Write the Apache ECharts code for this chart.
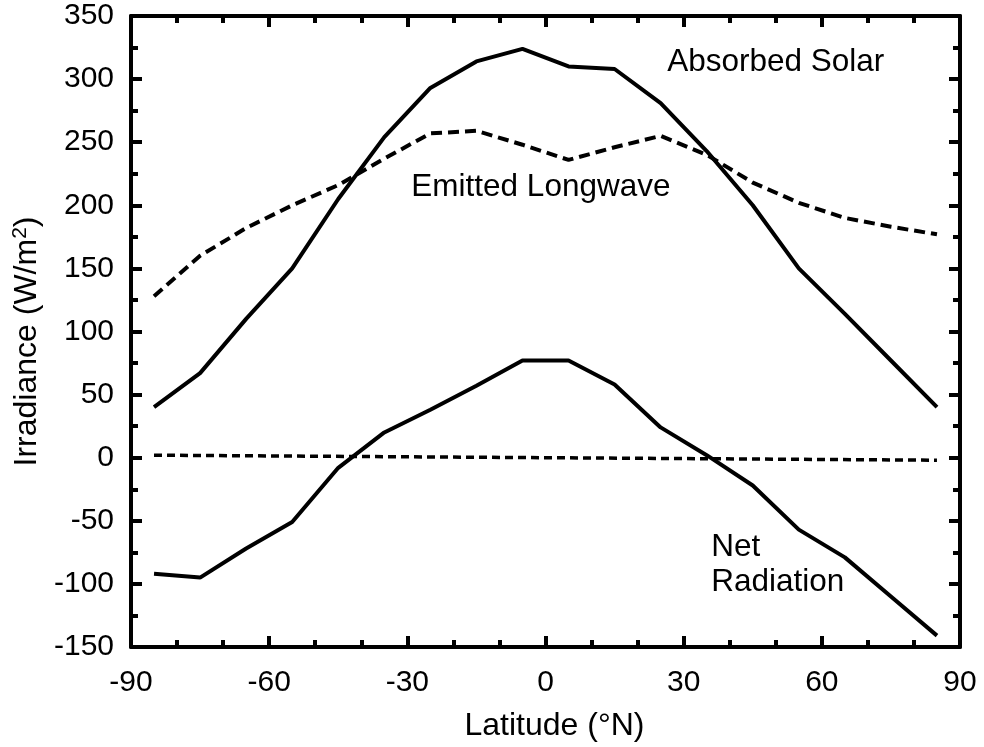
<!DOCTYPE html>
<html>
<head>
<meta charset="utf-8">
<script src="https://cdn.jsdelivr.net/npm/echarts@6/dist/echarts.min.js"></script>
<style>
html,body{margin:0;padding:0;background:#fff;}
#chart{width:984px;height:747px;}
</style>
</head>
<body>
<div id="chart"></div>
<script>
const latitudes = [-85, -75, -65, -55, -45, -35, -25, -15, -5, 5, 15, 25, 35, 45, 55, 65, 75, 85];
const absorbedSolar = [40, 67, 110, 150, 205, 254, 293, 314, 324, 310, 308, 281, 243, 200, 150, 114, 77, 40];
const emittedLongwave = [128, 160, 182, 200, 216, 237, 257, 259, 248, 236, 246, 255, 240, 218, 202, 190, 183, 177];
const netRadiation = [-92, -95, -72, -51, -8, 20, 38, 57, 77, 77, 58, 24, 2, -22, -57, -79, -110, -141];
const zeroLine = [2, -2];
const zeroLats = [-85, 85];
const xTicks = [-90, -60, -30, 0, 30, 60, 90];
const yTicks = [-150, -100, -50, 0, 50, 100, 150, 200, 250, 300, 350];
const annotationTexts = ['Absorbed Solar', 'Emitted Longwave', 'Net\nRadiation'];
const annotationLats = [50, -1, 36];
const annotationVals = [313, 214, -85];
const annotationAligns = ['center', 'center', 'left'];

const pairs = (xs, ys) => xs.map((x, i) => [x, ys[i]]);
const FONT = '"Liberation Sans", Arial, Helvetica, sans-serif';

const chart = echarts.init(document.getElementById('chart'), null, {renderer: 'canvas'});

const baseX = {
  type: 'value', min: xTicks[0], max: xTicks[xTicks.length - 1], interval: 30,
  axisLine: {show: true, onZero: false, lineStyle: {color: '#000', width: 4}},
  axisTick: {show: true, inside: true, length: 11, lineStyle: {color: '#000', width: 4}},
  minorTick: {show: true, splitNumber: 3, length: 7, lineStyle: {color: '#000', width: 4}},
  splitLine: {show: false}
};
const baseY = {
  type: 'value', min: yTicks[0], max: yTicks[yTicks.length - 1], interval: 50,
  axisLine: {show: true, onZero: false, lineStyle: {color: '#000', width: 4}},
  axisTick: {show: true, inside: true, length: 11, lineStyle: {color: '#000', width: 4}},
  minorTick: {show: true, splitNumber: 2, length: 7, lineStyle: {color: '#000', width: 4}},
  splitLine: {show: false}
};

const option = {
  backgroundColor: '#fff',
  animation: false,
  grid: {left: 131, right: 24, top: 16, bottom: 100, containLabel: false, outerBoundsMode: 'none'},
  xAxis: [
    Object.assign({}, baseX, {
      position: 'bottom',
      name: 'Latitude (°N)', nameLocation: 'middle', nameGap: 63,
      nameTextStyle: {fontFamily: FONT, fontSize: 32, color: '#000', padding: [0, 0, 0, 18]},
      axisLabel: {show: true, margin: 21, fontFamily: FONT, fontSize: 30, color: '#000'}
    }),
    Object.assign({}, baseX, {position: 'top', axisLabel: {show: false}})
  ],
  yAxis: [
    Object.assign({}, baseY, {
      position: 'left',
      name: 'Irradiance (W/m{sup|2})', nameLocation: 'middle', nameGap: 86, nameRotate: 90,
      nameTextStyle: {fontFamily: FONT, fontSize: 32, color: '#000', padding: [0, 20, 0, 0],
        rich: {sup: {fontFamily: FONT, fontSize: 21, color: '#000', padding: [0, 0, 14, 0]}}},
      axisLabel: {show: true, margin: 17, fontFamily: FONT, fontSize: 30, color: '#000'}
    }),
    Object.assign({}, baseY, {position: 'right', axisLabel: {show: false}})
  ],
  series: [
    {
      type: 'line', name: 'Absorbed Solar', data: pairs(latitudes, absorbedSolar),
      symbol: 'none', lineStyle: {color: '#000', width: 4}, z: 3
    },
    {
      type: 'line', name: 'Emitted Longwave', data: pairs(latitudes, emittedLongwave),
      symbol: 'none', lineStyle: {color: '#000', width: 4, type: [11, 6]}, z: 3
    },
    {
      type: 'line', name: 'Net Radiation', data: pairs(latitudes, netRadiation),
      symbol: 'none', lineStyle: {color: '#000', width: 4}, z: 3
    },
    {
      type: 'line', name: 'Zero', data: pairs(zeroLats, zeroLine),
      symbol: 'none', lineStyle: {color: '#000', width: 3.5, type: [8, 5]}, z: 3
    },
    {
      type: 'scatter', name: 'Annotations', symbol: 'circle', symbolSize: 0, silent: true, z: 4,
      itemStyle: {opacity: 1, color: '#000'},
      data: annotationTexts.map((t, i) => ({
        value: [annotationLats[i], annotationVals[i]],
        label: {show: true, position: 'inside', formatter: t, align: annotationAligns[i], verticalAlign: 'middle',
                fontFamily: FONT, fontSize: 31.5, color: '#000', opacity: 1, lineHeight: 35}
      }))
    }
  ]
};
chart.setOption(option);
</script>
</body>
</html>
